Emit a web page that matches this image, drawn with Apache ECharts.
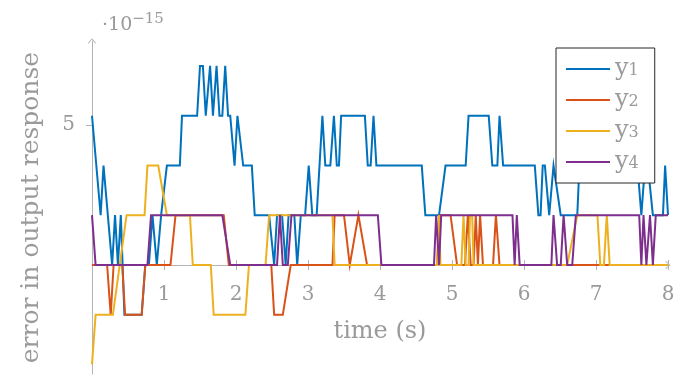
<!DOCTYPE html>
<html>
<head>
<meta charset="utf-8">
<script src="https://cdn.jsdelivr.net/npm/echarts@6/dist/echarts.min.js"></script>
<style>html,body{margin:0;padding:0;background:#fff}#c{width:680px;height:375px}</style>
</head>
<body>
<div id="c"></div>
<script>
// values in units of 1e-15
const seriesNames = ['y1', 'y2', 'y3', 'y4'];
const xTickLabels = [1, 2, 3, 4, 5, 6, 7, 8];
const yTickLabels = [5];

const t1 = [0.00,0.12,0.16,0.28,0.32,0.36,0.40,0.45,0.69,0.74,0.79,0.84,0.90,0.96,1.04,1.22,1.25,1.46,1.50,1.54,1.58,1.64,1.68,1.73,1.77,1.81,1.85,1.89,1.92,1.98,2.02,2.10,2.22,2.26,2.46,2.53,2.57,2.64,2.69,2.73,2.81,2.85,2.90,2.96,3.01,3.06,3.12,3.20,3.24,3.31,3.36,3.40,3.43,3.46,3.79,3.83,3.87,3.91,3.95,4.58,4.63,4.82,4.91,5.19,5.23,5.51,5.56,5.63,5.66,5.71,6.15,6.20,6.23,6.26,6.29,6.35,6.41,6.51,6.74,6.80,7.52,7.63,7.68,7.72,7.79,7.93,7.96,8.00];
const y1 = [5.33,1.78,3.55,0,1.78,0,1.78,-1.78,-1.78,0,0,1.78,0,1.78,3.55,3.55,5.33,5.33,7.11,7.11,5.33,7.11,5.33,7.11,5.33,5.33,7.11,5.33,5.33,3.55,5.33,3.55,3.55,1.78,1.78,0,1.78,1.78,0,1.78,1.78,0,1.78,1.78,3.55,1.78,1.78,5.33,3.55,3.55,5.33,3.55,3.55,5.33,5.33,3.55,3.55,5.33,3.55,3.55,1.78,1.78,3.55,3.55,5.33,5.33,3.55,3.55,5.33,3.55,3.55,1.78,1.78,3.55,3.55,1.78,3.55,1.78,1.78,5.33,5.33,1.78,3.55,3.55,1.78,1.78,3.55,1.78];

const t2 = [0.00,0.21,0.26,0.30,0.42,0.46,0.69,0.74,1.09,1.16,1.83,1.90,2.49,2.53,2.65,2.76,3.34,3.37,3.50,3.58,3.70,3.82,4.79,4.84,4.98,5.07,5.18,5.22,5.26,5.30,5.33,5.36,5.39,5.43,5.57,5.61,5.66,8.00];
const y2 = [0,0,-1.78,0,0,-1.78,-1.78,0,0,1.78,1.78,0,0,-1.78,-1.78,0,0,1.78,1.78,0,1.78,0,0,1.78,1.78,0,0,1.78,0,0,1.78,0,1.78,0,0,1.78,0,0];

const t3 = [0.00,0.05,0.29,0.48,0.73,0.77,0.92,1.04,1.36,1.40,1.65,1.69,2.13,2.18,2.41,2.46,3.34,3.37,4.79,4.82,4.84,5.13,5.16,5.19,5.23,5.25,5.28,5.30,6.60,6.74,7.02,7.06,7.11,7.15,7.19,8.00];
const y3 = [-3.55,-1.78,-1.78,1.78,1.78,3.55,3.55,1.78,1.78,0,0,-1.78,-1.78,0,0,1.78,1.78,0,0,1.78,0,0,1.78,0,0,1.78,1.78,0,0,1.78,1.78,0,0,1.78,0,0];

const t4 = [0.00,0.05,0.77,0.82,1.81,1.92,2.57,2.61,2.65,2.72,2.77,3.97,4.02,4.75,4.78,4.82,4.85,5.84,5.87,5.90,5.94,6.38,6.41,6.46,6.51,6.55,6.60,6.67,6.72,7.60,7.63,7.66,7.70,7.75,7.79,7.83,8.00];
const y4 = [1.78,0,0,1.78,1.78,0,0,1.78,0,0,1.78,1.78,0,0,1.78,0,1.78,1.78,0,1.78,0,0,1.78,0,0,1.78,0,0,1.78,1.78,0,1.78,0,1.78,0,1.78,1.78];

const colors = ['#0072BD', '#D95319', '#EDB120', '#7E2F8E'];
const times = [t1, t2, t3, t4];
const vals = [y1, y2, y3, y4];

const serif = 'DejaVu Serif';
const grey = '#9a9a9a';
const axisGrey = '#b4b4b4';
const chevron = 'path://M0,0 L6,7 L5,8 L0,1.6 L-5,8 L-6,7 Z';
const yMin = -3.9, yMax = 8;
const gridH = 333.2;
// shift the bottom x axis up onto the y = 0 line
const zeroOffset = -(0 - yMin) / (yMax - yMin) * gridH;
const gridBox = {left: 92, right: 12, top: 41, height: gridH, containLabel: false, outerBoundsMode: 'none'};

const chart = echarts.init(document.getElementById('c'), null, {renderer: 'canvas'});
chart.setOption({
  animation: false,
  color: colors,
  title: {
    text: '{a|·10}{b|−15}',
    left: 102, top: 12, padding: 0,
    textStyle: {
      fontWeight: 'normal',
      rich: {
        a: {fontFamily: serif, fontSize: 19, fontWeight: 'normal', color: grey, lineHeight: 26},
        b: {fontFamily: serif, fontSize: 15, fontWeight: 'normal', color: grey, lineHeight: 10, verticalAlign: 'top'}
      }
    }
  },
  grid: [gridBox, Object.assign({}, gridBox)],
  legend: {
    orient: 'vertical',
    left: 556, top: 48,
    padding: [9, 16, 9, 9],
    itemGap: 7,
    itemWidth: 44,
    itemHeight: 20,
    backgroundColor: '#fff',
    borderColor: '#262626',
    borderWidth: 1,
    borderRadius: 0,
    data: seriesNames,
    itemStyle: {opacity: 0, borderWidth: 0},
    formatter: n => '{a|y}{b|' + n.slice(1) + '}',
    textStyle: {
      rich: {
        a: {fontFamily: serif, fontSize: 24, color: grey, lineHeight: 20},
        b: {fontFamily: serif, fontSize: 16, color: grey, lineHeight: 8, verticalAlign: 'bottom'}
      }
    }
  },
  xAxis: [{
    gridIndex: 0,
    type: 'value', min: 0, max: 8, interval: 1, position: 'bottom',
    offset: zeroOffset,
    name: 'time (s)', nameLocation: 'middle', nameGap: 55,
    nameTextStyle: {fontFamily: serif, fontSize: 24, color: grey},
    axisLine: {onZero: false, lineStyle: {color: axisGrey, width: 1},
      symbol: ['none', chevron], symbolSize: [8, 8]},
    axisTick: {show: true, length: 5, lineStyle: {color: axisGrey}},
    axisLabel: {fontFamily: serif, fontSize: 20, color: grey, margin: 20,
      customValues: xTickLabels},
    splitLine: {show: false}
  }, {
    gridIndex: 1,
    type: 'value', min: 0, max: 8, interval: 1, position: 'bottom',
    axisLine: {show: false, onZero: true},
    axisTick: {show: true, inside: true, length: 5, lineStyle: {color: axisGrey}},
    axisLabel: {show: false},
    splitLine: {show: false}
  }],
  yAxis: [{
    gridIndex: 0,
    type: 'value', min: yMin, max: yMax,
    name: 'error in output response', nameLocation: 'middle', nameGap: 48,
    nameTextStyle: {fontFamily: serif, fontSize: 25, color: grey},
    axisLine: {show: true, onZero: false, lineStyle: {color: axisGrey, width: 1},
      symbol: ['none', chevron], symbolSize: [8, 8]},
    axisTick: {show: true, length: 6, customValues: yTickLabels, lineStyle: {color: axisGrey}},
    axisLabel: {fontFamily: serif, fontSize: 20, color: grey, margin: 17, customValues: yTickLabels},
    splitLine: {show: false}
  }, {
    gridIndex: 1,
    type: 'value', min: yMin, max: yMax,
    axisLine: {show: false, onZero: false},
    axisTick: {show: false},
    axisLabel: {show: false},
    splitLine: {show: false}
  }],
  series: seriesNames.map((n, i) => ({
    name: n,
    type: 'line',
    xAxisIndex: 0,
    yAxisIndex: 0,
    showSymbol: false,
    symbol: 'none',
    clip: false,
    lineStyle: {width: 2, color: colors[i], join: 'miter'},
    data: times[i].map((t, k) => [t, vals[i][k]])
  }))
});
</script>
</body>
</html>
